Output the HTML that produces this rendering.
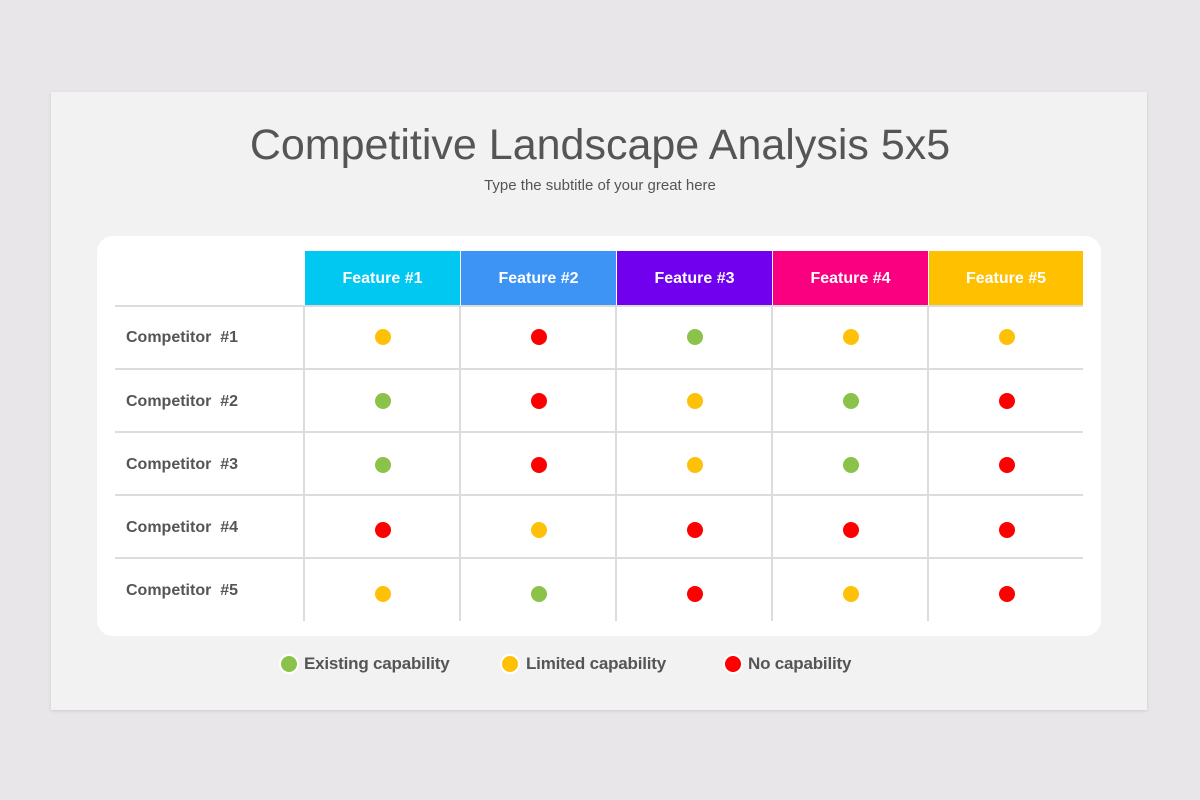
<!DOCTYPE html>
<html><head><meta charset="utf-8"><style>
body{margin:0;width:1200px;height:800px;background:#e8e6e8;position:relative;overflow:hidden;font-family:"Liberation Sans",sans-serif}
.a{position:absolute}
.slide{left:51px;top:92px;width:1096px;height:618px;background:#f2f2f2;box-shadow:0 1px 3px rgba(0,0,0,.12)}
.card{left:97px;top:236px;width:1004px;height:400px;background:#fff;border-radius:16px}
.h{top:251px;height:54px;color:#fff;font-weight:bold;font-size:16px;line-height:56px;text-align:center}
.hl{height:2px;background:#dcdcdc;left:115px;width:968px}
.vl{width:2px;background:#dcdcdc;top:305px;height:316px}
.lab{left:126px;font-size:16px;font-weight:bold;color:#555;height:20px;line-height:20px}
.d{width:16px;height:16px;border-radius:50%}
.G{background:#8bc34a}.Y{background:#ffc107}.R{background:#ff0000}
.ld{width:16px;height:16px;border-radius:50%;border:2px solid #fff}
.lt{font-size:17px;font-weight:bold;color:#555;top:654px;line-height:20px;letter-spacing:-0.2px}
</style></head><body>
<div class="a slide"></div>
<div class="a" style="left:0;width:1200px;top:121px;text-align:center;font-size:43px;color:#555">Competitive Landscape Analysis 5x5</div>
<div class="a" style="left:0;width:1200px;top:177px;text-align:center;font-size:15px;color:#555">Type the subtitle of your great here</div>
<div class="a card"></div>
<div class="a h" style="left:305px;width:155px;background:#00c8f0">Feature #1</div>
<div class="a h" style="left:461px;width:155px;background:#3d94f5">Feature #2</div>
<div class="a h" style="left:617px;width:155px;background:#7000ee">Feature #3</div>
<div class="a h" style="left:773px;width:155px;background:#fa0080">Feature #4</div>
<div class="a h" style="left:929px;width:154px;background:#ffc000">Feature #5</div>
<div class="a hl" style="top:305px"></div>
<div class="a hl" style="top:368px"></div>
<div class="a hl" style="top:431px"></div>
<div class="a hl" style="top:494px"></div>
<div class="a hl" style="top:557px"></div>
<div class="a vl" style="left:303px"></div>
<div class="a vl" style="left:459px"></div>
<div class="a vl" style="left:615px"></div>
<div class="a vl" style="left:771px"></div>
<div class="a vl" style="left:927px"></div>
<div class="a lab" style="top:328px">Competitor&nbsp; #1</div>
<div class="a lab" style="top:392px">Competitor&nbsp; #2</div>
<div class="a lab" style="top:455px">Competitor&nbsp; #3</div>
<div class="a lab" style="top:518px">Competitor&nbsp; #4</div>
<div class="a lab" style="top:581px">Competitor&nbsp; #5</div>
<div id="dots"></div>
<script>
var g=["YRGYY","GRYGR","GRYGR","RYRRR","YGRYR"],xs=[383,539,695,851,1007],ys=[337,401,465,530,594],h="";
for(var r=0;r<5;r++)for(var c=0;c<5;c++)h+='<div class="a d '+g[r][c]+'" style="left:'+(xs[c]-8)+'px;top:'+(ys[r]-8)+'px"></div>';
document.getElementById("dots").innerHTML=h;
</script>
<div class="a ld G" style="left:279px;top:654px"></div>
<div class="a lt" style="left:304px">Existing capability</div>
<div class="a ld Y" style="left:500px;top:654px"></div>
<div class="a lt" style="left:526px">Limited capability</div>
<div class="a ld R" style="left:723px;top:654px"></div>
<div class="a lt" style="left:748px">No capability</div>
</body></html>
